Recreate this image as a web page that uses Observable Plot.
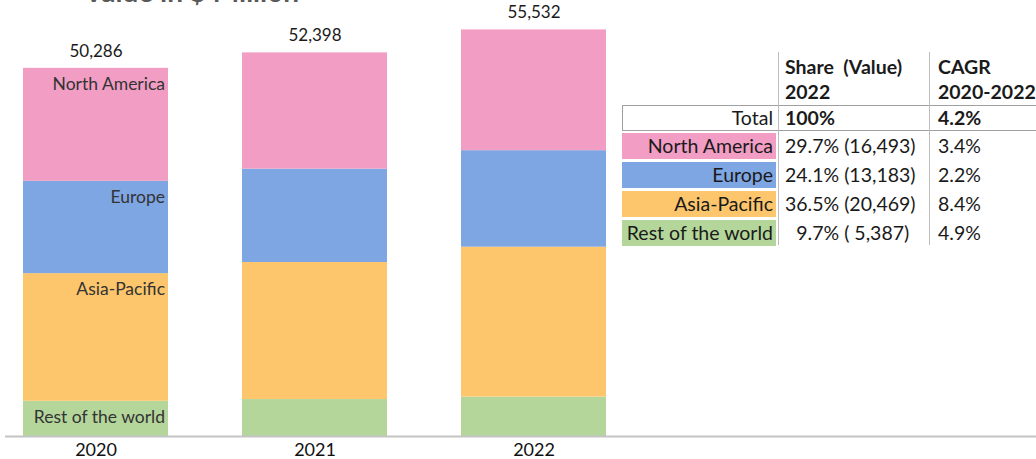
<!DOCTYPE html>
<html><head><meta charset="utf-8">
<script src="https://cdn.jsdelivr.net/npm/d3@7"></script>
<script src="https://cdn.jsdelivr.net/npm/@observablehq/plot@0.6"></script>
<style>
body{margin:0;background:#fff;overflow:hidden}
#wrap{position:relative;width:1036px;height:459px;overflow:hidden;font-family:Lato,sans-serif}
#title{position:absolute;left:84px;top:-26px;font:bold 28px Lato,sans-serif;color:#595959;white-space:nowrap}
#chart{position:absolute;left:0;top:0}
.cell{position:absolute;white-space:pre;font-size:19.5px;line-height:26px;height:26px;color:#1a1a1a}
.vline{position:absolute;width:1px;background:#bdbdbd}
</style></head><body>
<div id="wrap"><div id="chart"></div><div id="title">Value in $ Million</div><div id="table"></div></div>
<script>
const years = ["2020", "2021", "2022"];
const regions = ["North America", "Europe", "Asia-Pacific", "Rest of the world"];
const northAmerica = [15430, 15880, 16493];
const europe = [12610, 12750, 13183];
const asiaPacific = [17440, 18720, 20469];
const restOfWorld = [4806, 5048, 5387];
const totals = [50286, 52398, 55532];
const share2022 = [29.7, 24.1, 36.5, 9.7];
const cagr = [3.4, 2.2, 8.4, 4.9];
const totalShare = "100%";
const totalCagr = "4.2%";
const colors = ["#F19DC4", "#7EA6E3", "#FDC66C", "#B4D69B"];

const series = {"North America": northAmerica, "Europe": europe, "Asia-Pacific": asiaPacific, "Rest of the world": restOfWorld};
const stackOrder = ["Rest of the world", "Asia-Pacific", "Europe", "North America"];
const rows = [];
years.forEach((yr, i) => stackOrder.forEach(r => rows.push({year: yr, region: r, value: series[r][i]})));
const totalRows = years.map((yr, i) => ({year: yr, total: totals[i]}));
const fmt = d3.format(",");

const chart = Plot.plot({
  width: 1036, height: 459,
  marginLeft: 5, marginRight: 0, marginTop: 26, marginBottom: 23,
  style: {fontFamily: "Lato, sans-serif", background: "transparent"},
  x: {domain: years, range: [22, 607], paddingInner: 0.34, paddingOuter: 0, label: null},
  y: {domain: [0, 56000], axis: null},
  color: {domain: regions, range: colors},
  marks: [
    Plot.barY(rows, Plot.stackY({x: "year", y: "value", fill: "region"})),
    Plot.text(rows.filter(d => d.year === "2020"), Plot.stackY2({x: "year", y: "value", z: "region", text: "region", textAnchor: "end", lineAnchor: "middle", dx: 69, dy: 16, fontSize: 17.5, fill: "#333"})),
    Plot.text(totalRows, {x: "year", y: "total", text: d => fmt(d.total), dy: -17, lineAnchor: "middle", fontSize: 17, fill: "#1a1a1a"}),
    Plot.ruleY([0], {stroke: "#c4c4c4", strokeWidth: 2}),
    Plot.axisX({tickSize: 0, tickPadding: 7, fontSize: 18, fill: "#111", label: null})
  ]
});
document.getElementById("chart").appendChild(chart);

// table
const T = document.getElementById("table");
function cell(text, left, top, opts = {}) {
  const d = document.createElement("div");
  d.className = "cell";
  d.textContent = text;
  d.style.left = left + "px"; d.style.top = top + "px";
  if (opts.width) d.style.width = opts.width + "px";
  if (opts.align) d.style.textAlign = opts.align;
  if (opts.bg) d.style.background = opts.bg;
  if (opts.bold) d.style.fontWeight = "bold";
  if (opts.pad) d.style.paddingRight = opts.pad + "px";
  if (opts.box) d.style.boxSizing = "border-box";
  T.appendChild(d);
  return d;
}
const box = document.createElement("div");
box.style.cssText = "position:absolute;left:622px;top:105px;width:430px;height:26px;border:1.5px solid #a0a0a0;box-sizing:border-box;background:#fff";
T.appendChild(box);
[778, 929].forEach(x => { const v = document.createElement("div"); v.className = "vline"; v.style.left = x + "px"; v.style.top = "52px"; v.style.height = "193px"; T.appendChild(v); });
cell("Share  (Value)", 785, 54, {bold: true});
cell("2022", 785, 79, {bold: true});
cell("CAGR", 938, 54, {bold: true});
cell("2020-2022", 938, 79, {bold: true});
cell("Total", 622, 105, {width: 154, align: "right", pad: 3, box: true});
cell(totalShare, 785, 105, {bold: true});
cell(totalCagr, 938, 105, {bold: true});
const rowTops = [133, 162, 191, 220];
regions.forEach((r, i) => {
  const v = series[r][2];
  cell(r, 622, rowTops[i], {width: 154, align: "right", pad: 3, bg: colors[i], box: true});
  cell(share2022[i].toFixed(1).padStart(4, "\u2007") + "% (" + fmt(v).padStart(6, " ") + ")", 785, rowTops[i]);
  cell(cagr[i].toFixed(1) + "%", 938, rowTops[i]);
});
</script>
</body></html>
